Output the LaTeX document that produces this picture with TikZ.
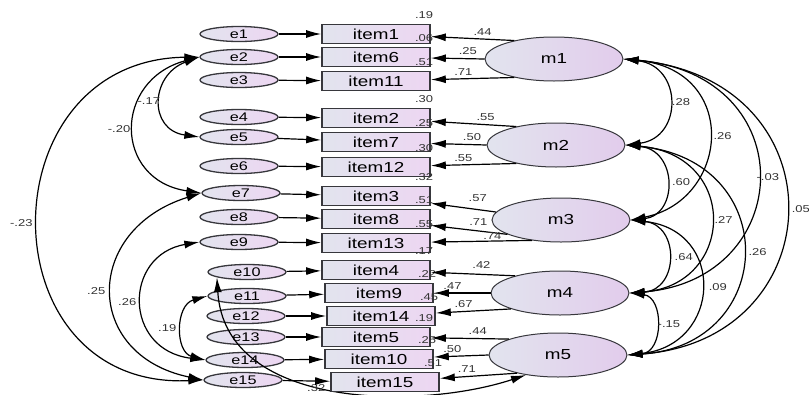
\documentclass[tikz,border=0pt]{standalone}
\usepackage{fontspec}
\setmainfont[FakeStretch=1.3]{Liberation Sans}
\usetikzlibrary{shapes.geometric,arrows.meta}

\definecolor{fillL}{RGB}{226,228,238}
\definecolor{fillR}{RGB}{237,214,242}
\definecolor{facR}{RGB}{226,204,236}
\definecolor{rim}{RGB}{55,55,60}

\tikzset{
  err/.style={draw=rim, ellipse, line width=1.3pt, minimum width=78pt, minimum height=15pt, inner sep=0pt,
    left color=fillL, right color=fillR, font=\fontsize{12.5}{12.5}\selectfont},
  item/.style={draw=rim, rectangle, line width=1.6pt, minimum width=108pt, minimum height=19pt, inner sep=0pt,
    left color=fillL, right color=fillR, font=\fontsize{14.5}{14.5}\selectfont},
  fac/.style={draw=rim, ellipse, line width=1pt, minimum width=138pt, minimum height=44pt, inner sep=0pt,
    left color=fillL, right color=facR, font=\fontsize{14.5}{14.5}\selectfont},
  val/.style={font=\fontsize{10}{10}\selectfont, inner sep=1pt, text=black!80},
  r2/.style={val, anchor=south east, xshift=4pt, yshift=4pt},
}

\begin{document}
\begin{tikzpicture}[x=1pt, y=-1pt, line width=1.2pt, >={Latex[length=15pt,width=8pt]}]
    \useasboundingbox (0,0) rectangle (809,394);

    % error terms
    \node[err] (e1) at (239,34) {e1};
    \node[err] (e2) at (239,57) {e2};
    \node[err] (e3) at (239,80) {e3};
    \node[err] (e4) at (239,117) {e4};
    \node[err] (e5) at (239,137) {e5};
    \node[err] (e6) at (239,166) {e6};
    \node[err] (e7) at (241,193) {e7};
    \node[err] (e8) at (239,217) {e8};
    \node[err] (e9) at (239,242) {e9};
    \node[err] (e10) at (247,272) {e10};
    \node[err] (e11) at (247,296) {e11};
    \node[err] (e12) at (246,316) {e12};
    \node[err] (e13) at (246,337) {e13};
    \node[err] (e14) at (245,360) {e14};
    \node[err] (e15) at (243,380) {e15};

    % factors
    \node[fac] (m1) at (554,59) {m1};
    \node[fac] (m2) at (556,145) {m2};
    \node[fac] (m3) at (561,220) {m3};
    \node[fac] (m4) at (560,293) {m4};
    \node[fac] (m5) at (558,355) {m5};

    % e10 <-> m5 passes under item15
    \draw[<->] (e10.190) .. controls (225,410) and (420,410) .. (m5.212) node[val, pos=.45, below=-2pt] (c105) {.32};

    % items
    \node[item, label={[r2]north east:.19}] (i1) at (376,34) {item1};
    \node[item, label={[r2]north east:.06}] (i6) at (376,57) {item6};
    \node[item, label={[r2]north east:.51}] (i11) at (376,81) {item11};
    \node[item, label={[r2]north east:.30}] (i2) at (376,118) {item2};
    \node[item, label={[r2]north east:.25}] (i7) at (376,142) {item7};
    \node[item, label={[r2]north east:.30}] (i12) at (376,167) {item12};
    \node[item, label={[r2]north east:.32}] (i3) at (376,196) {item3};
    \node[item, label={[r2]north east:.51}] (i8) at (376,219) {item8};
    \node[item, label={[r2]north east:.55}] (i13) at (376,243) {item13};
    \node[item, label={[r2]north east:.17}] (i4) at (376,270) {item4};
    \node[item, label={[r2]north east:.22}] (i9) at (379,293) {item9};
    \node[item, label={[r2]north east:.45}] (i14) at (381,316) {item14};
    \node[item, label={[r2]north east:.19}] (i5) at (376,337) {item5};
    \node[item, label={[r2]north east:.25}] (i10) at (379,359) {item10};
    \node[item, label={[r2]north east:.51}] (i15) at (385,382) {item15};

    % errors -> items
    \draw[->] (e1) -- (i1);
    \draw[->] (e2) -- (i6);
    \draw[->] (e3) -- (i11);
    \draw[->] (e4) -- (i2);
    \draw[->] (e5) -- (i7);
    \draw[->] (e6) -- (i12);
    \draw[->] (e7) -- (i3);
    \draw[->] (e8) -- (i8);
    \draw[->] (e9) -- (i13);
    \draw[->] (e10) -- (i4);
    \draw[->] (e11) -- (i9);
    \draw[->] (e12) -- (i14);
    \draw[->] (e13) -- (i5);
    \draw[->] (e14) -- (i10);
    \draw[->] (e15) -- (i15);

    % loadings
    \draw[->] (m1.155) -- node[val, above=2pt, pos=.38] (l1) {.44} (i1);
    \draw[->] (m1.180) -- node[val, above=2pt, pos=.31] (l6) {.25} (i6);
    \draw[->] (m1.205) -- node[val, above=2pt, pos=.61] (l11) {.71} (i11);
    \draw[->] (m2.155) -- node[val, above=2pt, pos=.36] (l2) {.55} (i2);
    \draw[->] (m2.180) -- node[val, above=2pt, pos=.26] (l7) {.50} (i7);
    \draw[->] (m2.205) -- node[val, above=2pt, pos=.62] (l12) {.55} (i12);
    \draw[->] (m3.173) -- node[val, above=6pt, pos=.28] (l3) {.57} (i3);
    \draw[->] (m3.195) -- node[val, above=4pt, pos=.38] (l8) {.71} (i8);
    \draw[->] (m3.215) -- node[val, above=0pt, pos=.39] (l13) {.74} (i13);
    \draw[->] (m4.159) -- node[val, above=4pt, pos=.40] (l4) {.42} (i4);
    \draw[->] (m4.180) -- node[val, above=2pt, pos=.67] (l9) {.47} (i9);
    \draw[->] (m4.198) -- node[val, above=2pt, pos=.63] (l14) {.67} (i14);
    \draw[->] (m5.162) -- node[val, above=2pt, pos=.40] (l5) {.44} (i5);
    \draw[->] (m5.180) -- node[val, above=2pt, pos=.66] (l10) {.50} (i10);
    \draw[->] (m5.204) -- node[val, above=2pt, pos=.65] (l15) {.71} (i15);

    % error covariances
    \draw[<->] (e2.west) .. controls (150,75) and (148,130) .. (e5.west) node[val, pos=.5, left=0pt] (c25) {-.17};
    \draw[<->] (e2.west) .. controls (113,80) and (113,180) .. (e7.west) node[val, pos=.5, left=3pt] (c27) {-.20};
    \draw[<->] (e2.west) .. controls (-15,60) and (-15,390) .. (e15.west) node[val, pos=.5, left=5pt] (c215) {-.23};
    \draw[<->] (e7.west) .. controls (83,230) and (83,355) .. (e15.west) node[val, pos=.5, left=6pt] (c715) {.25};
    \draw[<->] (e9.west) .. controls (123,255) and (123,350) .. (e14.west) node[val, pos=.5, left=5pt] (c914) {.26};
    \draw[<->] (e11.west) .. controls (175,305) and (175,352) .. (e14.west) node[val, pos=.5, left=5pt] (c1114) {.19};

    % factor covariances
    \draw[<->] (m1.east) .. controls (683,66) and (683,138) .. (m2.east) node[val, pos=.5, right=2pt] (c12) {.28};
    \draw[<->] (m1.east) .. controls (740,70) and (730,200) .. (m3.east) node[val, pos=.5, right=4pt] (c13) {.26};
    \draw[<->] (m1.east) .. controls (805,75) and (796,280) .. (m4.east) node[val, pos=.5, right=-2pt] (c14) {-.03};
    \draw[<->] (m1.east) .. controls (843,80) and (834,340) .. (m5.east) node[val, pos=.5, right=5pt] (c15) {.05};
    \draw[<->] (m2.east) .. controls (678,150) and (678,215) .. (m3.east) node[val, pos=.5, right=5pt] (c23) {.60};
    \draw[<->] (m2.east) .. controls (740,155) and (735,285) .. (m4.east) node[val, pos=.5, right=3pt] (c24) {.27};
    \draw[<->] (m2.east) .. controls (783,160) and (778,345) .. (m5.east) node[val, pos=.5, right=5pt] (c25m) {.26};
    \draw[<->] (m3.east) .. controls (680,225) and (679,290) .. (m4.east) node[val, pos=.5, right=6pt] (c34) {.64};
    \draw[<->] (m3.east) .. controls (726,230) and (722,345) .. (m5.east) node[val, pos=.5, right=7pt] (c35) {.09};
    \draw[<->] (m4.east) .. controls (664,297) and (664,352) .. (m5.east) node[val, pos=.5, right=1pt] (c45) {-.15};
\end{tikzpicture}
\end{document}
